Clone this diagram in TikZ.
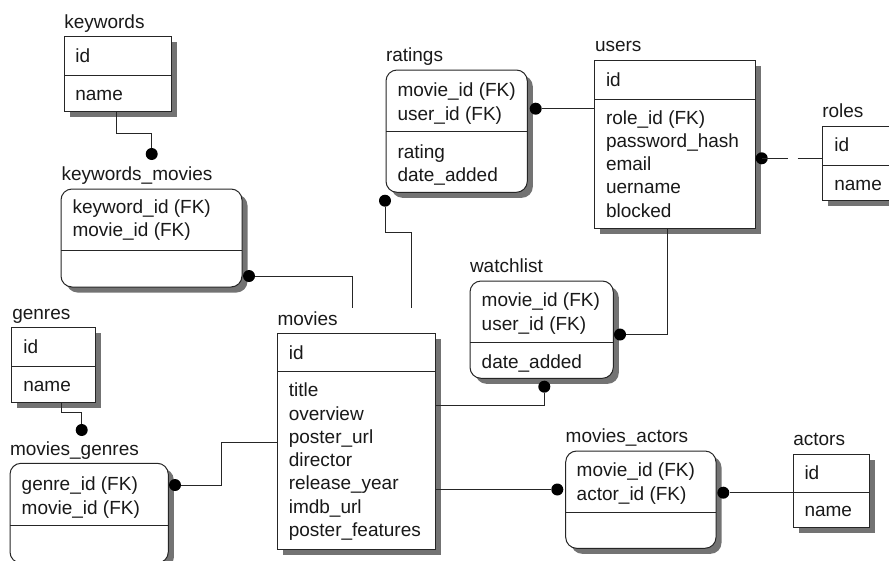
\documentclass[tikz,border=0pt]{standalone}
\usepackage{fontspec}
\setmainfont{Liberation Sans}
\usetikzlibrary{shadows,calc}

\tikzset{
  ln/.style={line width=1pt, draw=black!85},
  box/.style={ln, fill=white, inner sep=0pt, outer sep=0pt,
    general shadow={fill=black!55, shadow xshift=5.5pt, shadow yshift=-5.5pt}},
  soft/.style={rounded corners=11pt},
  fld/.style={anchor=base west, inner sep=0pt, outer sep=0pt,
    font=\fontsize{19}{23}\selectfont, text=black!90},
  ttl/.style={fld},
  dot/.style={circle, fill=black, draw=none, inner sep=0pt, minimum size=12pt},
  rel/.style={ln},
}

% entity box: name, left, top, right, bottom, extra style
\newcommand\ent[6]{%
  \node[box,#6,anchor=north west,
        minimum width={(#4-#2)*1pt},minimum height={(#5-#3)*1pt}] (#1) at (#2,#3) {};}
% horizontal compartment divider across a box
\newcommand\divider[2]{\draw[ln] (#1.west |- 0,#2) -- (#1.east |- 0,#2);}
% column of attribute rows: prefix, x, first baseline, list
\newcommand\attrs[4]{%
  \foreach \f [count=\i] in {#4}{\node[fld] (#1\i) at (#2,{#3+(\i-1)*23.3}) {\f};}}

\begin{document}
\begin{tikzpicture}[x=1pt,y=-1pt]
\useasboundingbox (0,0) rectangle (889,560);
\clip (0,0) rectangle (889,560);

% ---- keywords ----
\ent{keywords}{64.3}{36.7}{171.3}{111}{}
\divider{keywords}{75}
\node[ttl] (keywordsT) at (64.3,28.3) {keywords};
\attrs{kwA}{75.3}{62.3}{id}
\attrs{kwB}{75.3}{100}{name}

% ---- keywords_movies ----
\ent{km}{61}{189}{242}{287}{soft}
\divider{km}{250}
\node[ttl] (kmT) at (61.5,180.5) {keywords\_movies};
\attrs{kmA}{72.5}{213.5}{keyword\_id (FK),movie\_id (FK)}

% ---- ratings ----
\ent{ratings}{386}{70}{527.3}{192.3}{soft}
\divider{ratings}{131.7}
\node[ttl] (ratingsT) at (386,61.5) {ratings};
\attrs{rtA}{397.5}{96.7}{movie\_id (FK),user\_id (FK)}
\attrs{rtB}{397.5}{158.3}{rating,date\_added}

% ---- users ----
\ent{users}{594.3}{60.7}{755.7}{228.7}{}
\divider{users}{99}
\node[ttl] (usersT) at (595,51.7) {users};
\attrs{usA}{606}{86}{id}
\attrs{usB}{606}{124}{role\_id (FK),password\_hash,email,uername,blocked}

% ---- roles ----
\ent{roles}{822.3}{126.7}{905}{200}{}
\divider{roles}{165}
\node[ttl] (rolesT) at (822.3,117.3) {roles};
\attrs{roA}{834.3}{151.7}{id}
\attrs{roB}{834.3}{190}{name}

% ---- watchlist ----
\ent{watchlist}{470}{281}{613.3}{378.3}{soft}
\divider{watchlist}{342.7}
\node[ttl] (watchlistT) at (470,272.7) {watchlist};
\attrs{wlA}{481.7}{306.7}{movie\_id (FK),user\_id (FK)}
\attrs{wlB}{481.7}{368.3}{date\_added}

% ---- genres ----
\ent{genres}{11.7}{327.7}{95.7}{402.3}{}
\divider{genres}{366}
\node[ttl] (genresT) at (12.3,319.3) {genres};
\attrs{gnA}{23.3}{353.3}{id}
\attrs{gnB}{23.3}{391.7}{name}

% ---- movies_genres ----
\ent{mg}{10}{463.3}{168.3}{563}{soft}
\divider{mg}{525.7}
\node[ttl] (mgT) at (10,455.7) {movies\_genres};
\attrs{mgA}{21.7}{490.7}{genre\_id (FK),movie\_id (FK)}

% ---- movies ----
\ent{movies}{277.5}{333.3}{435.7}{549}{}
\divider{movies}{371.5}
\node[ttl] (moviesT) at (277.5,325) {movies};
\attrs{mvA}{288.8}{359.3}{id}
\attrs{mvB}{288.8}{396.7}{title,overview,poster\_url,director,release\_year,imdb\_url,poster\_features}

% ---- movies_actors ----
\ent{ma}{565.7}{451}{716}{548.3}{soft}
\divider{ma}{512.3}
\node[ttl] (maT) at (565.7,442.7) {movies\_actors};
\attrs{maA}{576.7}{476.7}{movie\_id (FK),actor\_id (FK)}

% ---- actors ----
\ent{actors}{793.3}{454}{869}{527.7}{}
\divider{actors}{492.3}
\node[ttl] (actorsT) at (793.3,445) {actors};
\attrs{acA}{804.5}{479.3}{id}
\attrs{acB}{804.5}{516.7}{name}

% ---- relationships ----
\node[dot] (dKw) at (151.7,154) {};
\draw[rel] ([xshift=52.4pt]keywords.south west) -- ++(0,22) -| (dKw);

\node[dot] (dKm) at (249,276) {};
\coordinate (mvT1) at (352.3,307.7);
\draw[rel] (dKm) -| (mvT1);

\node[dot] (dRtB) at (385,200.7) {};
\coordinate (mvT2) at (411.7,307.7);
\draw[rel] (dRtB) -- ++(0,31.6) -| (mvT2);

\node[dot] (dRtU) at (535.7,108.7) {};
\draw[rel] (dRtU) -- (users.west |- dRtU);

\node[dot] (dUsR) at (761.7,158.3) {};
\draw[rel, dash pattern=on 26pt off 10pt] (dUsR.center) -- (roles.west |- dUsR);

\node[dot] (dWlR) at (620,334.5) {};
\draw[rel] ([xshift=73.2pt]users.south west) |- (dWlR);

\node[dot] (dWlB) at (544.3,386.7) {};
\draw[rel] (dWlB) |- (movies.east |- 0,405);

\node[dot] (dMg) at (175,485) {};
\draw[rel] (movies.west |- 0,442.3) -| (221.7,485) -- (dMg);

\node[dot] (dGn) at (81.7,430) {};
\draw[rel] ([xshift=49.3pt]genres.south west) -- ++(0,10.4) -| (dGn);

\node[dot] (dMaL) at (557.3,489.5) {};
\draw[rel] (movies.east |- dMaL) -- (dMaL);

\node[dot] (dMaR) at (723.3,492.7) {};
\draw[rel] (actors.west |- dMaR) -- (dMaR);
\end{tikzpicture}
\end{document}
